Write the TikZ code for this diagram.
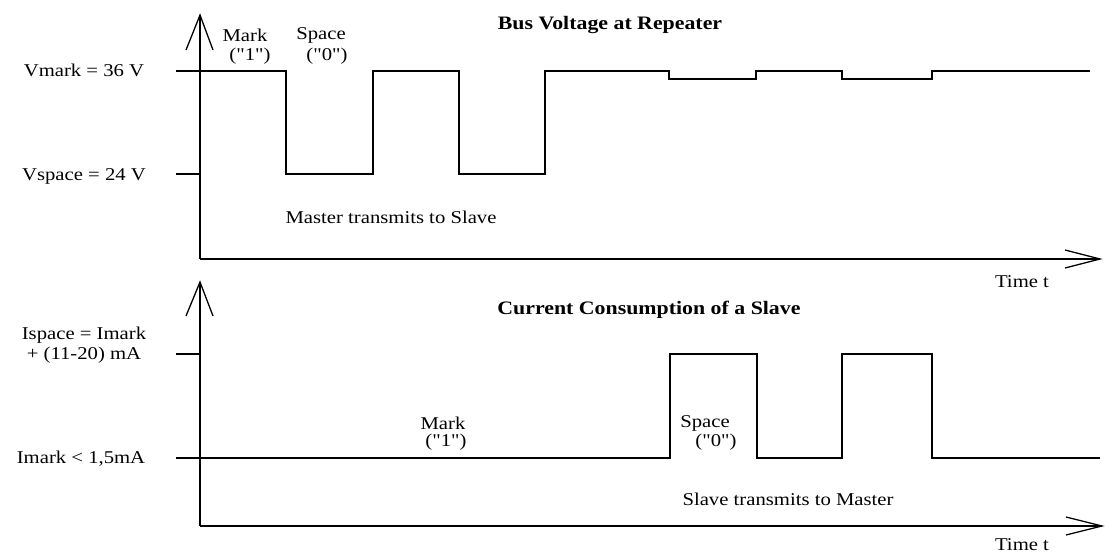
\documentclass[tikz,border=0pt]{standalone}
\usepackage{fontspec}
\setmainfont{Liberation Serif}[FakeStretch=1.15, Ligatures=TeXOff]
\begin{document}
\begin{tikzpicture}[x=1pt,y=-1pt,
  lbl/.style={inner sep=0pt, font=\fontsize{18}{20}\selectfont},
  ttl/.style={inner sep=0pt, font=\fontsize{19}{21}\selectfont\bfseries},
  sig/.style={line width=1.6pt, line join=miter},
  ax/.style={line width=1.6pt},
  head/.style={line width=1.3pt, line join=miter}]
\useasboundingbox (0,0) rectangle (1113,554);

% ---------- top panel ----------
\coordinate (O1) at (200,259);
\coordinate (Y1) at (200,15);
\coordinate (X1) at (1100,259);
\coordinate (Y1l) at (186,50);
\coordinate (Y1r) at (213,50);
\coordinate (X1u) at (1065,250);
\coordinate (X1d) at (1065,268);
\draw[ax] (O1) -- (Y1);
\draw[ax] (O1) -- (X1);
\draw[head] (Y1l) -- (Y1) -- (Y1r);
\draw[head] (X1u) -- (X1) -- (X1d);
\draw[ax] (176,174) -- (200,174);
\draw[sig] (176,71) -| (286,174) -| (373,71) -| (459,174) -| (545,71)
  -| (669,79) -| (756,71) -| (842,79) -| (932,71) -- (1090,71);

\node[lbl] (vmark) at (84,70) {Vmark = 36 V};
\node[lbl] (vspace) at (84,176) {Vspace = 24 V};
\node[lbl] (mk1) at (245,35) {Mark};
\node[lbl] (mk1v) at (250,56) {("1")};
\node[lbl] (sp1) at (321,35) {Space};
\node[lbl] (sp1v) at (327,56) {("0")};
\node[lbl] (mts) at (391,217) {Master transmits to Slave};
\node[ttl] (t1) at (610,25) {Bus Voltage at Repeater};
\node[lbl] (time1) at (1022,282) {Time t};

% ---------- bottom panel ----------
\coordinate (O2) at (200,526);
\coordinate (Y2) at (200,282);
\coordinate (X2) at (1102,526);
\coordinate (Y2l) at (186,316);
\coordinate (Y2r) at (213,316);
\coordinate (X2u) at (1066,517);
\coordinate (X2d) at (1066,535);
\draw[ax] (O2) -- (Y2);
\draw[ax] (O2) -- (X2);
\draw[head] (Y2l) -- (Y2) -- (Y2r);
\draw[head] (X2u) -- (X2) -- (X2d);
\draw[ax] (176,354) -- (200,354);
\draw[sig] (176,458) -| (670,354) -| (757,458) -| (842,354) -| (932,458) -- (1100,458);

\node[lbl] (isp1) at (84,335) {Ispace = Imark};
\node[lbl] (isp2) at (84,355) {+ (11-20) mA};
\node[lbl] (imark) at (81,459) {Imark < 1,5mA};
\node[lbl] (mk2) at (443,423) {Mark};
\node[lbl] (mk2v) at (446,442) {("1")};
\node[lbl] (sp2) at (705,423) {Space};
\node[lbl] (sp2v) at (716,442) {("0")};
\node[lbl] (stm) at (788,499) {Slave transmits to Master};
\node[ttl] (t2) at (649,310) {Current Consumption of a Slave};
\node[lbl] (time2) at (1022,545) {Time t};
\end{tikzpicture}
\end{document}
